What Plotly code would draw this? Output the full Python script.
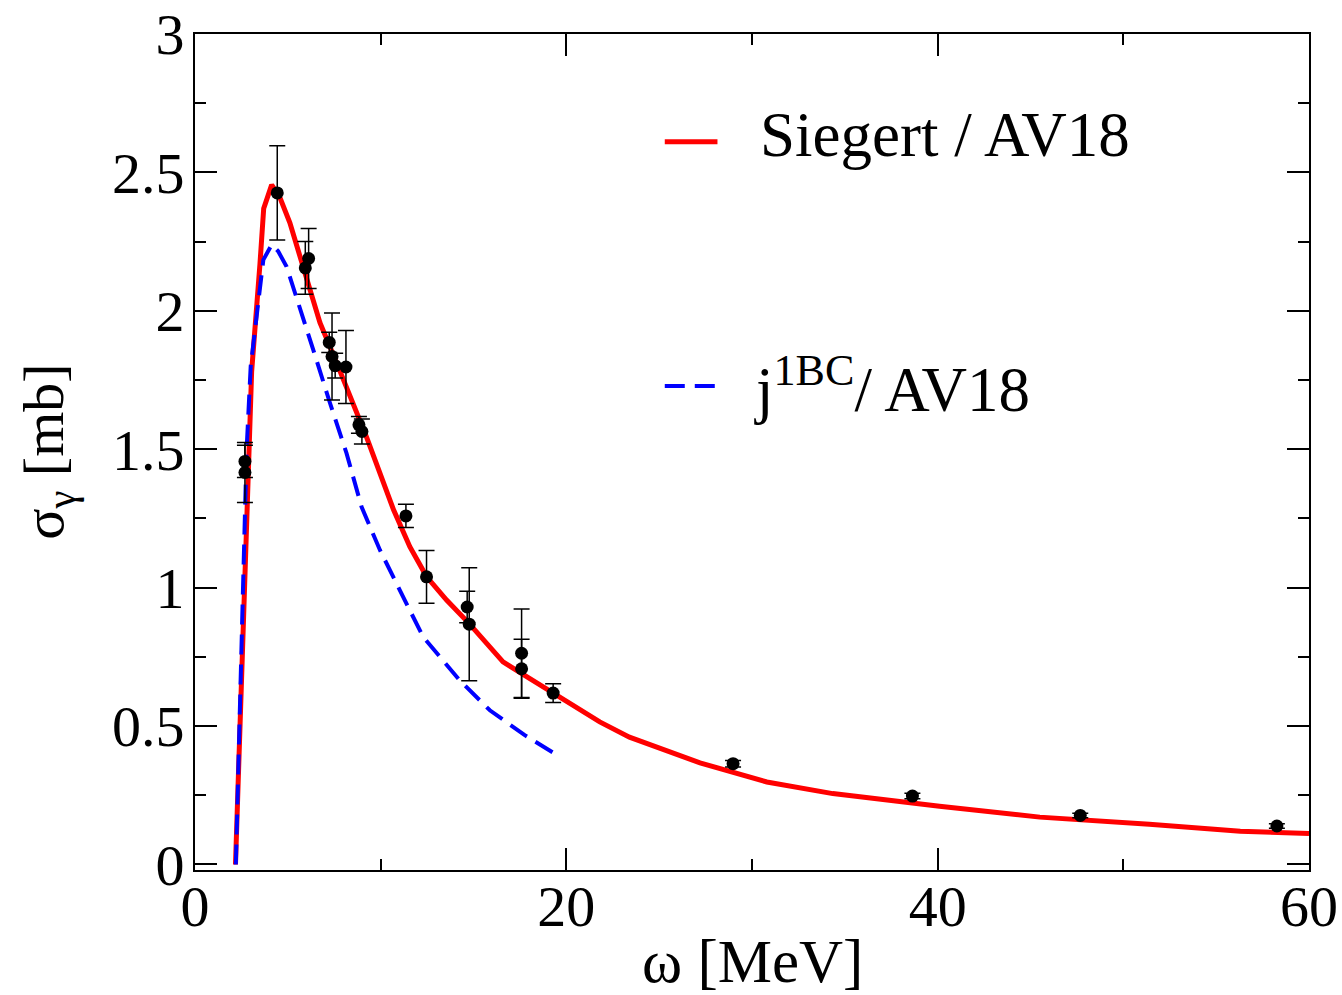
import plotly.graph_objects as go

# Siegert / AV18 calculation
siegert_w = [2.18, 2.42, 2.65, 2.87, 3.05, 3.50, 3.70, 4.13, 4.57, 5.11, 5.65, 6.19,
             6.73, 7.63, 8.50, 9.24, 10.70, 11.57, 12.47, 13.55, 14.77, 16.59, 17.58,
             19.27, 21.8, 23.4, 27.2, 30.8, 34.35, 40.1, 45.5, 51.4, 56.3, 60.0]
siegert_s = [0.0, 0.5, 1.0, 1.5, 1.78, 2.17, 2.37, 2.455, 2.41, 2.318, 2.195, 2.065,
             1.957, 1.812, 1.667, 1.544, 1.28, 1.148, 1.04, 0.955, 0.87, 0.732, 0.69,
             0.618, 0.515, 0.46, 0.367, 0.298, 0.256, 0.21, 0.171, 0.145, 0.120, 0.112]

# one-body current j^1BC / AV18 calculation
j1bc_w = [2.2, 2.4, 2.55, 2.78, 3.0, 3.41, 3.68, 4.13, 4.48, 4.93, 5.47, 6.37, 7.27,
          8.16, 8.97, 9.96, 11.03, 12.29, 14.26, 15.88, 17.76, 19.27]
j1bc_s = [0.0, 0.5, 1.0, 1.5, 1.8, 2.015, 2.184, 2.239, 2.215, 2.16, 2.05, 1.859, 1.667,
          1.486, 1.292, 1.136, 0.991, 0.822, 0.665, 0.557, 0.467, 0.405]

# measured cross sections with errors
exp_w = [2.69, 2.69, 4.43, 5.94, 6.12, 7.23, 7.38, 7.55, 8.13, 8.83, 8.99, 11.36,
         12.47, 14.66, 14.77, 17.59, 17.59, 19.29, 28.98, 38.64, 47.68, 58.27]
exp_s = [1.456, 1.416, 2.426, 2.155, 2.189, 1.886, 1.835, 1.802, 1.797, 1.588, 1.564,
         1.259, 1.039, 0.930, 0.868, 0.763, 0.707, 0.619, 0.364, 0.247, 0.177, 0.139]
exp_err = [0.058, 0.108, 0.17, 0.095, 0.108, 0.037, 0.157, 0.045, 0.132, 0.03, 0.045,
           0.042, 0.095, 0.057, 0.204, 0.16, 0.107, 0.034, 0.012, 0.01, 0.008, 0.008]

FONT = "Liberation Serif"

fig = go.Figure()
fig.add_trace(go.Scatter(x=siegert_w, y=siegert_s, mode="lines",
                         line=dict(color="#ff0000", width=5), showlegend=False))
fig.add_trace(go.Scatter(x=j1bc_w, y=j1bc_s, mode="lines",
                         line=dict(color="#0000ff", width=4, dash="20px,10px"),
                         showlegend=False))
fig.add_trace(go.Scatter(x=exp_w, y=exp_s, mode="markers",
                         marker=dict(color="black", size=13),
                         error_y=dict(type="data", array=exp_err, color="black",
                                      thickness=1.5, width=8),
                         showlegend=False))

axis_common = dict(showline=True, linecolor="black", linewidth=2, mirror="allticks",
                   ticks="inside", tickcolor="black", tickwidth=2, ticklen=22,
                   showgrid=False, zeroline=False,
                   tickfont=dict(family=FONT, size=58, color="black"))

fig.update_xaxes(range=[0, 60], tickvals=[0, 20, 40, 60],
                 minor=dict(dtick=10, ticks="inside", ticklen=11, tickwidth=2,
                            tickcolor="black", showgrid=False),
                 ticklabelstandoff=-16, **axis_common)
fig.update_yaxes(range=[-0.02, 3], tickvals=[0, 0.5, 1, 1.5, 2, 2.5, 3],
                 ticktext=["0", "0.5", "1", "1.5", "2", "2.5", "3"],
                 minor=dict(dtick=0.25, ticks="inside", ticklen=11, tickwidth=2,
                            tickcolor="black", showgrid=False),
                 ticklabelstandoff=-3, **axis_common)

# legend samples and labels
fig.add_shape(type="line", xref="paper", yref="paper", x0=0.4217, x1=0.469,
              y0=0.871, y1=0.871, line=dict(color="#ff0000", width=5))
fig.add_shape(type="line", xref="paper", yref="paper", x0=0.4217, x1=0.471,
              y0=0.579, y1=0.579, line=dict(color="#0000ff", width=4, dash="20px,10px"))
fig.add_annotation(text="Siegert / AV18", xref="paper", yref="paper", x=0.505, y=0.879,
                   xanchor="left", yanchor="middle", showarrow=False,
                   font=dict(family=FONT, size=63, color="black"))
fig.add_annotation(text="j<sup>1BC</sup>/ AV18", xref="paper", yref="paper", x=0.500,
                   y=0.580, xanchor="left", yanchor="middle", showarrow=False,
                   font=dict(family=FONT, size=63, color="black"))

# axis titles
fig.add_annotation(text="ω [MeV]", xref="paper", yref="paper", x=0.5, y=-0.11,
                   xanchor="center", yanchor="middle", showarrow=False,
                   font=dict(family=FONT, size=61, color="black"))
fig.add_annotation(text="σ<sub>γ</sub> [mb]", xref="paper", yref="paper", x=-0.133,
                   y=0.5, xanchor="center", yanchor="middle", textangle=-90,
                   showarrow=False, font=dict(family=FONT, size=58, color="black"))

fig.update_layout(width=1342, height=995, plot_bgcolor="white", paper_bgcolor="white",
                  margin=dict(l=195, r=32.5, t=34, b=125, autoexpand=False),
                  showlegend=False)

fig.write_html("out.html")
